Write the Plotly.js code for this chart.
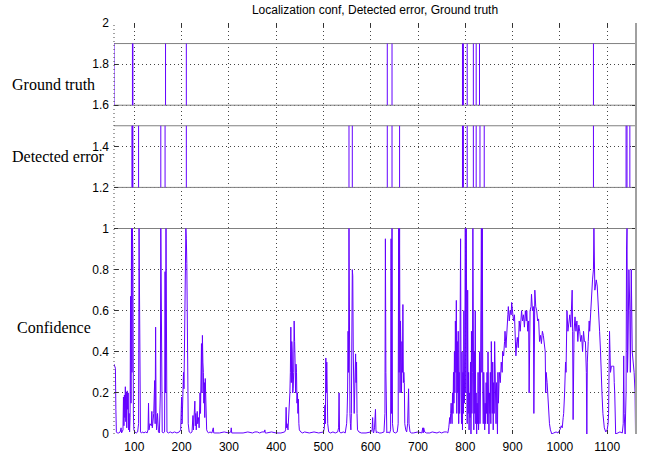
<!DOCTYPE html>
<html><head><meta charset="utf-8">
<script src="https://cdn.plot.ly/plotly-3.0.1.min.js"></script>
<style>html,body{margin:0;padding:0;background:#fff}#chart{width:645px;height:454px}</style>
</head><body><div id="chart"></div>
<script>
// ---- data ----
const xRange = [57, 1161];
const xTicks = [100, 200, 300, 400, 500, 600, 700, 800, 900, 1000, 1100];
const yTicks = [0, 0.2, 0.4, 0.6, 0.8, 1, 1.2, 1.4, 1.6, 1.8, 2];
const refLevels = [1.0, 1.2, 1.5, 1.6, 1.9];

const groundTruthLow = 1.6, groundTruthHigh = 1.9;
const detectedLow = 1.2, detectedHigh = 1.5;
const groundTruthEvents = [57, 96, 97, 166, 210, 635, 645, 794, 796, 804, 817, 823, 830, 1071];
const detectedEvents = [95, 96, 97, 109, 156, 165, 210, 554, 561, 635, 645, 661, 794, 796, 804, 817, 823, 831, 840, 1071, 1140, 1142, 1148];

const confX = [
 57,58,60,61,62,64,67,70,72,73, 74,76,77,78,79,80,81,82,83,84, 85,86,87,88,89,90,91,92,93,94, 95,96,97,98,99,101,104,107,109,110, 111,112,113,115,118,
 120,124,127,129,130,131,133,136,137,138, 139,141,143,144,145,146,147,149,150,151, 153,155,156,157,158,159,161,164,165,166, 167,168,169,172,176,180,185,190,195,198,
 200,201,202,204,205,206,207,208,209,210, 211,212,213,214,216,219,222,224,225,226, 228,229,230,231,233,234,236,237,239,240, 242,243,244,245,246,247,248,249,250,251, 252,253,255,257,260,264,267,268,270,
 280,290,300,304,305,306,310,320,330,340, 350,355,360,365,370,375,376,377,380,390, 400,410,418,
 420,421,422,423,425,427,429,430,431,432, 433,434,435,436,437,438,439,440,441,442, 443,444,445,446,447,448,449,452,456,460,
 470,480,490,500,502,503,504,505,506,507, 508,509,511,515,520,525,530,532,533,534, 537,542,546,549,550,551,552,553,554,555, 556,557,558,559,560,561,562,563,564,565, 566,567,568,569,570,571,572,575,580,590, 600,603,604,605,606,608,610,611,612,614, 618,
 622,628,630,631,632,633,634,636,640,642, 643,644,645,646,648,652,656,658,659,660, 661,662,663,664,665,666,667,668,669,670, 671,672,674,676,678,679,680,681,683,686, 690,700,708,710,711,712,714,718,
 725,730,740,745,750,755,760,763,765,767, 768,769,770,772,773,774,775,776,777,778, 779,780,
 781,782,783,784,785,786,787,788,789,790, 791,792,793,794,795,796,797,798,799,800, 801,802,803,804,805,806,807,808,809,810, 811,812,813,814,815,816,817,818,819,820, 821,822,823,824,825,826,827,828,829,830, 831,832,833,834,835,836,837,838,839,840, 841,842,843,844,845,846,847,848,849,850, 851,852,853,854,855,856,857,858,859,860, 861,862,863,864,865,866,867,868,869,870,
 872,874,876,878,879,881,883,884,886,888, 890,891,893,895,897,898,900,902,904,905, 907,909,910,912,914,916,918,919,921,923, 925,927,929,930,932,934,935,937,939,940, 942,944,945,946,947,949,951,953,955,957, 959,961,963,965,967,969,970,971,973,975, 976,978,980,983,987,992,996,
 1000,1003,1005,1007,1008,1010,1012,1013,1015,1017, 1019,1021,1023,1025,1026,1027,1028,1030,1032,1034, 1036,1038,1040,1042,1044,1046,1048,1050,1052,1054, 1056,1057,1058,1060,1062,1063,1065,1066,1068,1069, 1071,1072,1074,1076,1077,1079,1081,1082,1084,1086, 1087,1089,1091,1094,1097,1100,
 1102,1103,1104,1105,1107,1109,1111,1114,1115,1116, 1118,1122,1127,1132,1134,1135,1136,1138,1140,1141, 1142,1143,1144,1146,1148,1149,1150,1151,1153,1155, 1157,1159,1160
];
const confY = [
 0.34,0.33,0.32,0.12,0.01,0.005,0.005,0.01,0.03,0.005, 0.01,0.02,0.18,0.04,0.19,0.08,0.23,0.06,0.2,0.03, 0.21,0.12,0.2,0.02,0.1,0.01,0.08,0.67,0.15,1.0, 0.3,1.0,0.85,0.1,0.02,0.01,0.005,0.01,0.05,1.0, 0.56,0.22,0.01,0.005,0.01,
 0.005,0.01,0.005,0.02,0.15,0.02,0.05,0.04,0.11,0.03, 0.05,0.1,0.26,0.05,0.52,0.1,0.02,0.1,0.02,0.01, 0.005,0.2,1.0,0.55,0.05,0.01,0.005,0.01,0.79,0.2, 1.0,0.05,0.01,0.005,0.01,0.005,0.01,0.005,0.01,0.02,
 0.18,0.05,0.2,0.3,0.22,0.42,0.35,0.6,1.0,0.95, 0.83,0.4,0.25,0.05,0.01,0.005,0.01,0.09,0.02,0.08, 0.16,0.04,0.1,0.02,0.11,0.05,0.08,0.03,0.2,0.1, 0.44,0.2,0.48,0.35,0.3,0.15,0.25,0.08,0.27,0.1, 0.2,0.02,0.01,0.005,0.01,0.005,0.03,0.005,0.005,
 0.005,0.01,0.005,0.01,0.03,0.005,0.005,0.005,0.005,0.01, 0.005,0.01,0.01,0.005,0.01,0.01,0.02,0.005,0.005,0.01, 0.005,0.005,0.01,
 0.02,0.13,0.03,0.05,0.02,0.1,0.2,0.3,0.52,0.25, 0.45,0.4,0.2,0.22,0.3,0.55,0.45,0.35,0.2,0.34, 0.3,0.15,0.2,0.1,0.17,0.05,0.02,0.01,0.005,0.01,
 0.005,0.01,0.005,0.01,0.03,0.14,0.05,0.37,0.2,0.35, 0.15,0.05,0.01,0.005,0.01,0.005,0.01,0.03,0.2,0.01, 0.005,0.01,0.005,0.05,0.1,0.2,0.5,0.3,1.0,0.28, 0.1,0.05,0.02,0.1,0.3,0.8,0.77,0.4,0.2,0.1, 0.2,0.28,0.39,0.25,0.35,0.1,0.02,0.01,0.005,0.005, 0.01,0.02,0.08,0.01,0.005,0.03,0.12,0.02,0.005,0.01, 0.005,
 0.005,0.01,0.1,0.95,0.3,0.02,0.005,0.01,0.005,0.02, 0.95,0.1,1.0,0.05,0.01,0.005,0.01,0.05,1.0,0.3, 1.0,0.2,0.55,0.35,0.2,0.45,0.3,0.63,0.25,0.3, 0.25,0.05,0.02,0.01,0.05,0.15,0.22,0.05,0.01,0.005, 0.005,0.01,0.005,0.03,0.005,0.03,0.01,0.005,
 0.005,0.01,0.005,0.01,0.005,0.01,0.01,0.005,0.03,0.08, 0.05,0.1,0.15,0.05,0.2,0.1,0.3,0.15,0.4,0.2, 0.55,0.3,
 0.65,0.1,0.45,0.2,0.5,0.05,0.3,0.1,0.6,0.95, 0.2,0.05,0.4,0.02,0.3,0.1,0.6,0.15,0.4,1.0, 0.2,1.0,0.7,0.05,0.7,0.1,0.3,0.02,0.2,0.08, 0.35,0.0,0.5,0.1,0.3,1.0,0.2,0.02,0.4,0.1, 0.6,0.05,0.2,0.0,0.15,0.05,0.3,0.02,0.1,0.4, 0.05,0.2,0.6,1.0,0.3,1.0,0.2,0.05,0.3,0.1, 0.02,0.15,0.05,0.25,0.1,0.3,0.05,0.4,0.15,0.0, 0.2,0.1,0.3,0.05,0.45,0.2,0.1,0.35,0.02,0.25, 0.1,0.45,0.2,0.3,0.05,0.25,0.1,0.0,0.3,0.15,
 0.3,0.25,0.35,0.3,0.4,0.38,0.45,0.5,0.42,0.55, 0.58,0.62,0.55,0.6,0.58,0.64,0.6,0.55,0.58,0.5, 0.38,0.45,0.47,0.42,0.55,0.5,0.58,0.6,0.55,0.58, 0.52,0.6,0.55,0.6,0.5,0.55,0.2,0.6,0.62,0.68, 0.6,0.62,0.1,0.55,0.7,0.62,0.6,0.55,0.56,0.45, 0.48,0.44,0.5,0.48,0.45,0.4,0.2,0.3,0.25,0.15, 0.08,0.05,0.02,0.0,0.005,0.01,0.005,
 0.02,0.04,0.03,0.08,0.1,0.2,0.35,0.3,0.6,0.5, 0.55,0.58,0.52,0.6,0.7,0.5,0.07,0.5,0.57,0.5, 0.55,0.45,0.53,0.5,0.45,0.48,0.4,0.5,0.45,0.45, 0.3,0.0,0.35,0.45,0.55,0.5,0.6,0.65,0.7,0.75, 0.8,1.0,0.7,0.75,0.75,0.72,0.65,0.6,0.5,0.4, 0.3,0.2,0.1,0.03,0.01,0.02,
 0.05,0.1,0.3,0.5,0.3,0.33,0.33,0.33,0.25,0.2, 0.0,0.005,0.01,0.005,0.05,0.38,0.1,0.0,0.2,0.9, 1.0,0.3,0.4,0.8,0.6,0.3,0.6,0.8,0.4,0.35, 0.3,0.2,0.0
];

const titleText = 'Localization conf, Detected error, Ground truth';
const rowLabels = ['Ground truth', 'Detected error', 'Confidence'];
const rowLabelLevels = [1.70, 1.35, 0.52];

// ---- build traces ----
const purple = 'rgb(100,0,255)';
function pulses(events, lo, hi) {
  const x = [], y = [];
  events.forEach(e => { x.push(e, e, null); y.push(lo, hi, null); });
  return {x, y};
}
const refX = [], refY = [];
refLevels.forEach(v => { refX.push(xRange[0], xRange[1], null); refY.push(v, v, null); });

const gt = pulses(groundTruthEvents, groundTruthLow, groundTruthHigh);
const de = pulses(detectedEvents, detectedLow, detectedHigh);

const traces = [
  {x: refX, y: refY, mode: 'lines', line: {color: '#808080', width: 1}, hoverinfo: 'skip'},
  {x: gt.x, y: gt.y, mode: 'lines', line: {color: purple, width: 1}},
  {x: de.x, y: de.y, mode: 'lines', line: {color: purple, width: 1}},
  {x: confX, y: confY, mode: 'lines', line: {color: purple, width: 1}}
];

const annotations = rowLabels.map((t, i) => ({
  text: t, xref: 'paper', yref: 'y', x: -0.199, y: rowLabelLevels[i],
  xanchor: 'left', yanchor: 'middle', showarrow: false,
  font: {family: 'Liberation Serif, Times New Roman, serif', size: 16, color: '#000'}
}));
annotations[2].x = -0.19;

const layout = {
  width: 645, height: 454,
  margin: {l: 114, r: 9, t: 23, b: 20, pad: 0},
  paper_bgcolor: '#fff', plot_bgcolor: '#fff',
  showlegend: false,
  title: {text: titleText, xref: 'paper', x: 0.5, xanchor: 'center',
          yref: 'container', y: 0.978, yanchor: 'middle',
          font: {family: 'Liberation Sans, Arial, sans-serif', size: 12, color: '#000'}},
  font: {family: 'Liberation Sans, Arial, sans-serif', size: 12, color: '#000'},
  xaxis: {range: xRange, tickvals: xTicks, ticktext: xTicks.map(String),
          showgrid: true, gridcolor: '#444', griddash: '1px,3px', gridwidth: 1,
          zeroline: false, showline: false, ticks: 'inside', ticklen: 4, tickcolor: '#333',
          mirror: 'ticks', ticklabelstandoff: 4, tickfont: {size: 12}},
  yaxis: {range: [0, 2], tickvals: yTicks, ticktext: yTicks.map(String),
          showgrid: true, gridcolor: '#444', griddash: '1px,3px', gridwidth: 1,
          zeroline: false, showline: false, ticks: 'inside', ticklen: 4, tickcolor: '#333',
          mirror: 'ticks', ticklabelstandoff: 4, tickfont: {size: 12}},
  shapes: [
    {type: 'line', xref: 'paper', yref: 'paper', x0: 0, x1: 0, y0: 0, y1: 1,
     line: {color: '#444', width: 1, dash: '1px,3px'}},
    {type: 'line', xref: 'paper', yref: 'paper', x0: 1, x1: 1, y0: 0, y1: 1,
     line: {color: '#a0a0a0', width: 2}}
  ],
  annotations: annotations
};

Plotly.newPlot('chart', traces, layout, {displayModeBar: false, staticPlot: true});
</script>
</body></html>
